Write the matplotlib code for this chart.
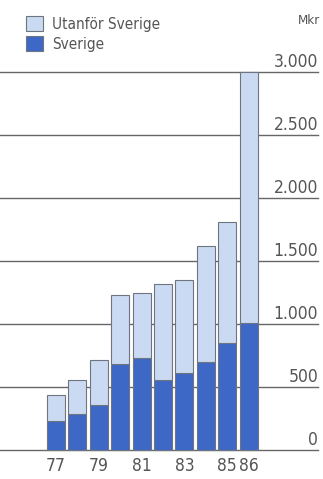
import matplotlib
matplotlib.use('Agg')
import matplotlib.pyplot as plt
from matplotlib.patches import Patch

plt.rcParams['font.family'] = ['DejaVu Sans']
plt.rcParams['font.stretch'] = 'condensed'

years = ['77', '78', '79', '80', '81', '82', '83', '84', '85', '86']
shown_years = ['77', '79', '81', '83', '85', '86']
sverige = [233, 283, 357, 680, 733, 556, 609, 701, 847, 1010]
totalt = [436, 556, 714, 1230, 1248, 1317, 1349, 1619, 1810, 3000]
utanfor = [t - s for t, s in zip(totalt, sverige)]
yticks = [0, 500, 1000, 1500, 2000, 2500, 3000]
ytick_labels = ['0', '500', '1.000', '1.500', '2.000', '2.500', '3.000']

light = '#c9daf2'
dark = '#3d68c6'
edge = '#6f7580'
grey = '#555555'

fig = plt.figure(figsize=(3.23, 4.79), dpi=100)
ax = fig.add_axes([0, 29 / 479, 318 / 323, (450 - 72) / 479])

x = list(range(len(years)))
for y, lab in zip(yticks, ytick_labels):
    ax.axhline(y, color='#666666', lw=1.0, zorder=1, clip_on=False)
    ax.text(1.0, y + 10, lab, transform=ax.get_yaxis_transform(),
            ha='right', va='bottom', fontsize=12.5, color=grey)

ax.bar(x, sverige, width=0.84, color=dark, edgecolor=edge, lw=0.8, zorder=2, clip_on=False)
ax.bar(x, utanfor, bottom=sverige, width=0.84, color=light, edgecolor=edge, lw=0.8, zorder=2,
       clip_on=False)

ax.set_xlim(-56 / 21.4, (318 - 56) / 21.4)
ax.set_ylim(0, 3000)
for s in ax.spines.values():
    s.set_visible(False)
ax.set_yticks([])
ax.set_xticks([years.index(t) for t in shown_years])
ax.set_xticklabels(shown_years, fontsize=12.5, color=grey)
ax.tick_params(axis='x', length=0, pad=5)

fig.text(320 / 323, 1 - 20 / 479, 'Mkr', ha='right', va='center', fontsize=9.5, color=grey)

handles = [Patch(facecolor=light, edgecolor=edge, lw=0.8, label='Utanför Sverige'),
           Patch(facecolor=dark, edgecolor=edge, lw=0.8, label='Sverige')]
fig.legend(handles=handles, loc='upper left', bbox_to_anchor=(0.045, 0.99), frameon=False,
           fontsize=11, handlelength=1.1, handleheight=1.1, handletextpad=0.6,
           labelspacing=0.3, borderaxespad=0.35, labelcolor=grey)

fig.savefig('out.png', dpi=100)
